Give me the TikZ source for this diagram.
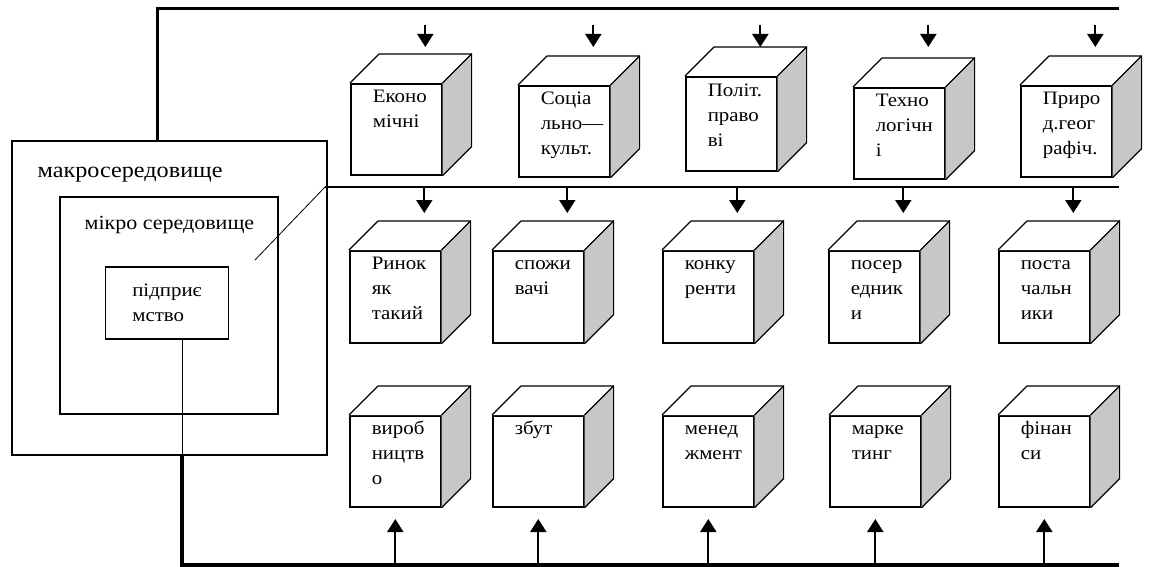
\documentclass[tikz,border=0pt]{standalone}
\usepackage{fontspec}
\setmainfont{Liberation Serif}[FakeStretch=1.1]
\usetikzlibrary{arrows.meta}

\newcommand{\cubelabel}[1]{\parbox[c][89pt][t]{91pt}{\raggedright\leftskip=22pt\relax\strut #1}}

\begin{document}
\begin{tikzpicture}[x=1pt, y=-1pt, every node/.style={font=\fontsize{19pt}{25pt}\selectfont},
	box/.style={draw, line width=1.8pt, inner sep=0pt},
	front/.style={draw, fill=white, line width=1.6pt, inner sep=0pt, minimum width=91pt, minimum height=91pt, anchor=north west},
	face/.style={draw, line width=1.2pt, line join=round},
	side/.style={face, fill=black!22},
	arr/.style={-{Triangle[width=16pt,length=13pt]}, line width=2pt},
	bus/.style={line width=3pt},
	lead/.style={line width=0.8pt}]
	\useasboundingbox (0,0) rectangle (1153,567);
	% environment of the firm
	\node[box, minimum width=315pt, minimum height=314pt] (macro) at (169.5,298) {};
	\node[box, minimum width=218pt, minimum height=217pt] (micro) at (169,305.5) {};
	\node[box, minimum width=123pt, minimum height=72pt, align=left] (firm) at (167,303) {підприє\\мство};
	\node[anchor=base west, font=\fontsize{22pt}{26pt}\selectfont] (macrolbl) at ([shift={(23,37)}]macro.north west) {макросередовище};
	\node[anchor=base west, font=\fontsize{20pt}{26pt}\selectfont] (microlbl) at ([shift={(22,33)}]micro.north west) {мікро середовище};
	% macro factors
	\node[front] (econ) at (350,83) {\cubelabel{Еконо\\мічні}};
	\node[front] (soc) at (518,85) {\cubelabel{Соціа\\льно—\\культ.}};
	\node[front, minimum height=94pt] (pol) at (685,76) {\cubelabel{Політ.\\право\\ві}};
	\node[front] (tech) at (853,87) {\cubelabel{Техно\\логічн\\і}};
	\node[front] (nat) at (1020,85) {\cubelabel{Приро\\д.геог\\рафіч.}};
	% micro factors
	\node[front, minimum height=92pt] (market) at (349,250) {\cubelabel{Ринок\\як\\такий}};
	\node[front, minimum height=92pt] (cons) at (492,250) {\cubelabel{спожи\\вачі}};
	\node[front, minimum height=92pt] (comp) at (662,250) {\cubelabel{конку\\ренти}};
	\node[front, minimum height=92pt] (inter) at (828,250) {\cubelabel{посер\\едник\\и}};
	\node[front, minimum height=92pt] (supp) at (998,250) {\cubelabel{поста\\чальн\\ики}};
	% inner functions
	\node[front] (prod) at (349,415) {\cubelabel{вироб\\ництв\\о}};
	\node[front] (sales) at (492,415) {\cubelabel{збут}};
	\node[front] (mgmt) at (662,415) {\cubelabel{менед\\жмент}};
	\node[front] (mkt) at (829,415) {\cubelabel{марке\\тинг}};
	\node[front] (fin) at (998,415) {\cubelabel{фінан\\си}};
	\foreach \n in {econ,soc,pol,tech,nat,market,cons,comp,inter,supp,prod,sales,mgmt,mkt,fin} {
		\draw[face, fill=white] (\n.north west) -- ([shift={(29,-29)}]\n.north west) -- ([shift={(29,-29)}]\n.north east) -- (\n.north east);
		\draw[side] (\n.north east) -- ([shift={(29,-29)}]\n.north east) -- ([shift={(29,-29)}]\n.south east) -- (\n.south east);
		\coordinate (\n-t) at ([shift={(29,-29)}]\n.north);
	}
	% lines
	\coordinate (tbusL) at (157,9); \coordinate (tbusR) at (1119,9);
	\coordinate (ttop) at (0,25); \coordinate (ttip) at (0,47);
	\coordinate (mstart) at (255,260); \coordinate (mbend) at (325,187); \coordinate (mbusR) at (1119,187); \coordinate (mtip) at (0,213);
	\coordinate (bbusL) at (182,565); \coordinate (bbusR) at (1119,565); \coordinate (btip) at (0,519);
	\draw[bus] (tbusL |- macro.north) -- (tbusL) -- (tbusR);
	\draw[lead] (mstart) -- (mbend); \draw[line width=2pt] (mbend) -- (mbusR);
	\draw[lead] (firm.south -| bbusL) -- (bbusL |- macro.south);
	\draw[bus, line width=3.5pt] (bbusL |- macro.south) -- (bbusL) -- (bbusR);
	\draw[arr] (econ-t |- ttop) -- (econ-t |- ttip); \draw[arr] (soc-t |- ttop) -- (soc-t |- ttip); \draw[arr] (pol-t |- ttop) -- (pol-t |- ttip);
	\draw[arr] (tech-t |- ttop) -- (tech-t |- ttip); \draw[arr] (nat-t |- ttop) -- (nat-t |- ttip);
	\draw[arr] (market-t |- mbusR) -- (market-t |- mtip); \draw[arr] (cons-t |- mbusR) -- (cons-t |- mtip); \draw[arr] (comp-t |- mbusR) -- (comp-t |- mtip);
	\draw[arr] (inter-t |- mbusR) -- (inter-t |- mtip); \draw[arr] (supp-t |- mbusR) -- (supp-t |- mtip);
	\draw[arr] (prod.south |- bbusR) -- (prod.south |- btip); \draw[arr] (sales.south |- bbusR) -- (sales.south |- btip); \draw[arr] (mgmt.south |- bbusR) -- (mgmt.south |- btip);
	\draw[arr] (mkt.south |- bbusR) -- (mkt.south |- btip); \draw[arr] (fin.south |- bbusR) -- (fin.south |- btip);
\end{tikzpicture}
\end{document}
